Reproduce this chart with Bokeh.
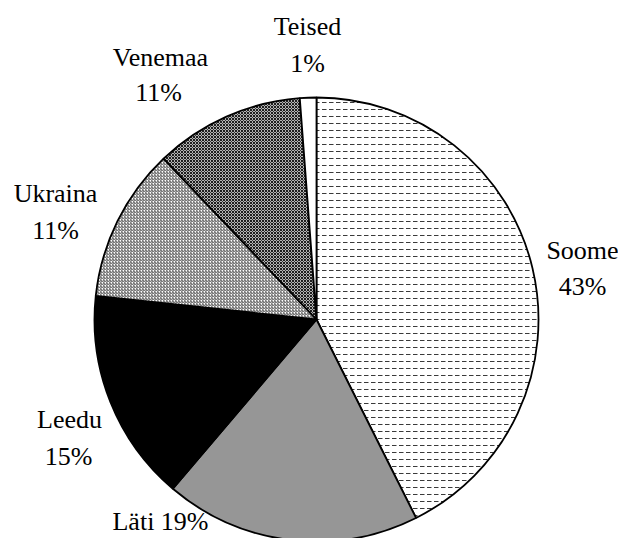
import math
from bokeh.plotting import figure
from bokeh.models import ColumnDataSource, Range1d
from bokeh.core.properties import value
from bokeh.embed import file_html
from bokeh.resources import INLINE

# ---- data ----
countries = ["Soome", "Läti", "Leedu", "Ukraina", "Venemaa", "Teised"]
shares = [42.6, 18.6, 15.5, 11.2, 10.9, 1.2]
pct_labels = ["43%", "19%", "15%", "11%", "11%", "1%"]

# ---- styles ----
fills = ["white", "#969696", "black", "white", "#b4b4b4", "white"]
hatches = ["horizontal_dash", " ", " ", "right_diagonal_line", "diagonal_cross", " "]
hatch_colors = ["#3a3a3a", "black", "black", "#505050", "#1e1e1e", "black"]
hatch_scales = [7, 6, 6, 3, 3, 6]

W, H = 618, 538
cx, cy, r = 316, H - 319, 222

total = sum(shares)
starts, ends = [], []
acc = 0.0
for s in shares:
    starts.append(math.pi / 2 - 2 * math.pi * acc / total)
    acc += s
    ends.append(math.pi / 2 - 2 * math.pi * acc / total)

src = ColumnDataSource(dict(
    start=starts, end=ends, fill=fills, hatch=hatches,
    hcol=hatch_colors, hscale=hatch_scales,
))

p = figure(width=W, height=H, output_backend="svg", toolbar_location=None,
           x_range=Range1d(0, W), y_range=Range1d(0, H),
           min_border=0, outline_line_color=None)
p.axis.visible = False
p.grid.visible = False
p.background_fill_color = "white"

p.wedge(x=cx, y=cy, radius=r, start_angle="start", end_angle="end",
        direction="clock", source=src, fill_color="fill",
        hatch_pattern="hatch", hatch_color="hcol", hatch_scale="hscale",
        hatch_weight=1, line_color="black", line_width=1.8)

# label anchors (centre x, baseline y measured from top)
name_pos = [(582, 250), (160, 521), (69, 419), (55, 193), (160, 57), (307, 26)]
pct_pos = [(582, 286), None, (68, 456), (55, 230), (158, 92), (307, 63)]

tx, ty, tt = [], [], []
for i, name in enumerate(countries):
    nx, ny = name_pos[i]
    if pct_pos[i] is None:
        tx.append(nx); ty.append(H - ny); tt.append(name + " " + pct_labels[i])
    else:
        tx.append(nx); ty.append(H - ny); tt.append(name)
        px, py = pct_pos[i]
        tx.append(px); ty.append(H - py); tt.append(pct_labels[i])

p.text(x=tx, y=ty, text=tt, text_font=value("Liberation Serif"),
       text_font_size="26px", text_align="center", text_baseline="alphabetic",
       text_color="black")

open("out.html", "w").write(file_html(p, INLINE))
